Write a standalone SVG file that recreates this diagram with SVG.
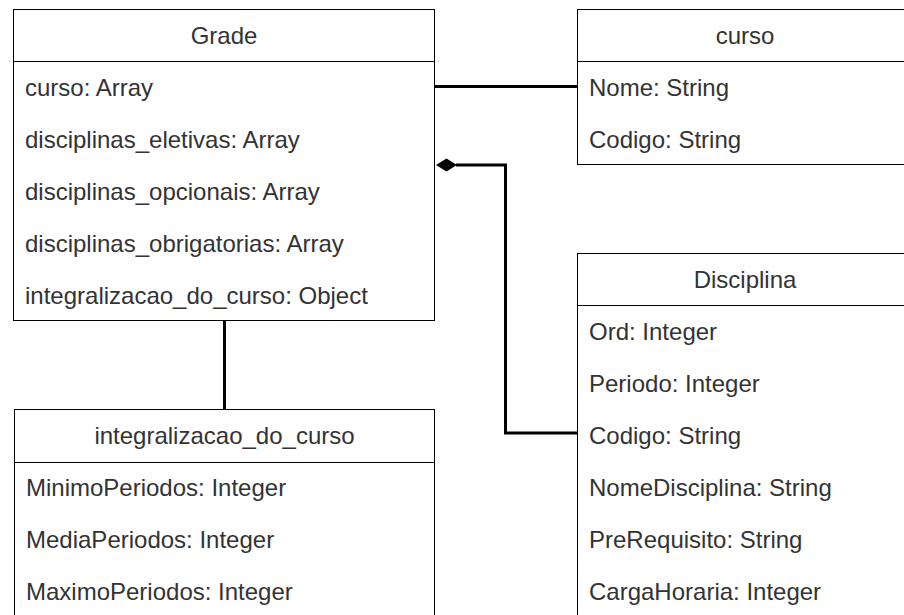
<svg xmlns="http://www.w3.org/2000/svg" width="904" height="615" viewBox="0 0 904 615">
  <style>
    .box { fill: #ffffff; stroke: #000000; stroke-width: 1; }
    .sep { stroke: #000000; stroke-width: 1; }
    .title { font-family: "Liberation Sans", Arial, sans-serif; font-size: 24px; fill: #333333; text-anchor: middle; }
    .attr { font-family: "Liberation Sans", Arial, sans-serif; font-size: 24px; fill: #333333; }
    .link { fill: none; stroke: #000000; stroke-width: 3; }
  </style>
  <rect x="0" y="0" width="904" height="615" fill="#ffffff"/>

  <!-- connectors -->
  <g id="connectors">
    <path class="link" d="M435,86.5 H577"/>
    <path class="link" d="M224.5,321 V409"/>
    <path class="link" d="M456,165 H505.5 V433 H577"/>
    <polygon points="436,165 446.5,158.5 457,165 446.5,171.5" fill="#000000"/>
  </g>

  <!-- class Grade -->
  <g id="grade">
    <rect class="box" x="13.5" y="9.5" width="421" height="311"/>
    <line class="sep" x1="13.5" y1="61.5" x2="434.5" y2="61.5"/>
    <text class="title" x="224" y="43.5">Grade</text>
    <text class="attr" x="25" y="96">curso: Array</text>
    <text class="attr" x="25" y="148">disciplinas_eletivas: Array</text>
    <text class="attr" x="25" y="200">disciplinas_opcionais: Array</text>
    <text class="attr" x="25" y="252">disciplinas_obrigatorias: Array</text>
    <text class="attr" x="25" y="304">integralizacao_do_curso: Object</text>
  </g>

  <!-- class curso -->
  <g id="curso">
    <rect class="box" x="577.5" y="9.5" width="336" height="155"/>
    <line class="sep" x1="577.5" y1="61.5" x2="913.5" y2="61.5"/>
    <text class="title" x="745" y="44">curso</text>
    <text class="attr" x="589" y="96">Nome: String</text>
    <text class="attr" x="589" y="148">Codigo: String</text>
  </g>

  <!-- class integralizacao_do_curso -->
  <g id="integralizacao_do_curso">
    <rect class="box" x="14.5" y="409.5" width="420" height="220"/>
    <line class="sep" x1="14.5" y1="462.5" x2="434.5" y2="462.5"/>
    <text class="title" x="224.5" y="444">integralizacao_do_curso</text>
    <text class="attr" x="26" y="496">MinimoPeriodos: Integer</text>
    <text class="attr" x="26" y="548">MediaPeriodos: Integer</text>
    <text class="attr" x="26" y="600">MaximoPeriodos: Integer</text>
  </g>

  <!-- class Disciplina -->
  <g id="disciplina">
    <rect class="box" x="577.5" y="253.5" width="336" height="380"/>
    <line class="sep" x1="577.5" y1="305.5" x2="913.5" y2="305.5"/>
    <text class="title" x="745" y="288">Disciplina</text>
    <text class="attr" x="589" y="340">Ord: Integer</text>
    <text class="attr" x="589" y="392">Periodo: Integer</text>
    <text class="attr" x="589" y="444">Codigo: String</text>
    <text class="attr" x="589" y="496">NomeDisciplina: String</text>
    <text class="attr" x="589" y="548">PreRequisito: String</text>
    <text class="attr" x="589" y="600">CargaHoraria: Integer</text>
  </g>
</svg>
